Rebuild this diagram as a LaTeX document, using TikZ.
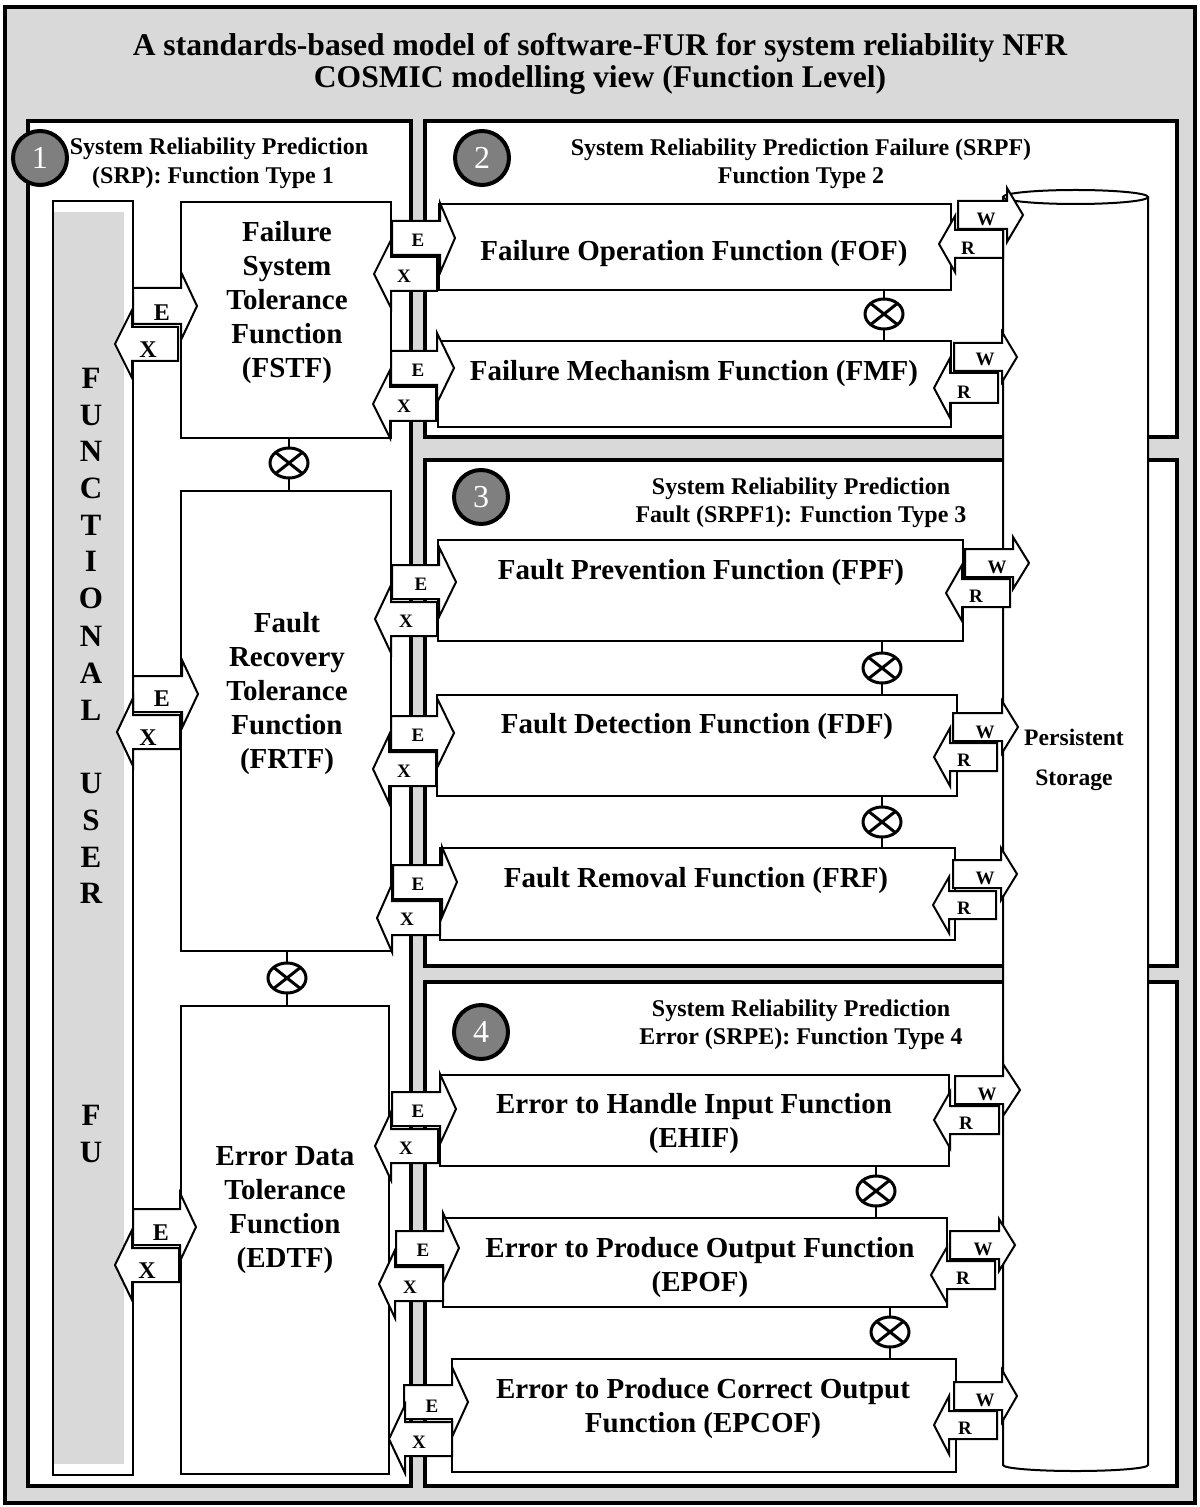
\documentclass[tikz,border=0pt]{standalone}
\usepackage{fontspec}
\setmainfont{Liberation Serif}
\usetikzlibrary{shapes.geometric,fit}
\definecolor{bggray}{HTML}{D9D9D9}
\definecolor{numgray}{HTML}{7F7F7F}
\tikzset{
  frame/.style={draw, line width=2pt, fill=white},
  fnbox/.style={draw, line width=1pt, fill=white, inner sep=0pt},
  blockarrow/.style={draw, line width=1pt, fill=white, line join=miter},
  link/.style={draw, line width=1.2pt},
  otimes/.style={ellipse, draw, line width=1.5pt, fill=white, minimum width=19pt,
    minimum height=15pt, inner sep=0pt,
    path picture={\draw[line width=1.5pt]
      (path picture bounding box.north west) -- (path picture bounding box.south east)
      (path picture bounding box.north east) -- (path picture bounding box.south west);}},
  numdisc/.style={circle, draw, line width=2pt, fill=numgray, minimum size=27pt,
    inner sep=0pt, text=white, font=\fontsize{16}{16}\selectfont},
  titletext/.style={font=\bfseries\fontsize{15.8}{16}\selectfont, align=center, yshift=-1pt},
  boxtext/.style={font=\bfseries\fontsize{14.5}{17}\selectfont, align=center, yshift=-1.5pt},
  headtext/.style={font=\bfseries\fontsize{12}{13.8}\selectfont, align=center, yshift=-1.5pt},
  fulabel/.style={font=\bfseries\fontsize{12}{12}\selectfont, yshift=-1pt},
  iolabel/.style={font=\bfseries\fontsize{9.5}{9.5}\selectfont, yshift=-0.5pt},
  fuletter/.style={font=\bfseries\fontsize{15.5}{15.5}\selectfont},
  storetext/.style={font=\bfseries\fontsize{11.8}{12}\selectfont},
}
% block arrow: {back end x}{head base x}{tip x}{centre y}{half body}{half head}
\newcommand\blockarrow[6]{%
  \draw[blockarrow] (#1,#4-#5) -- (#2,#4-#5) -- (#2,#4-#6) -- (#3,#4)
    -- (#2,#4+#6) -- (#2,#4+#5) -- (#1,#4+#5) -- cycle;}
\begin{document}
\begin{tikzpicture}[x=0.5pt, y=-0.5pt]
\useasboundingbox (0,0) rectangle (1199,1507);
\fill[white] (0,0) rectangle (1199,1507);
\draw[line width=1.8pt, fill=bggray] (5,7) rectangle (1195,1503);

% title
\node[titletext] (title) at (600,62) {A standards-based model of software-FUR for system reliability NFR\\COSMIC modelling view (Function Level)};

% section frames
\draw[frame] (28,121) rectangle (411,1486);
\draw[frame] (425,121) rectangle (1177,437);
\draw[frame] (425,460) rectangle (1177,966);
\draw[frame] (425,982) rectangle (1177,1486);

% persistent storage cylinder
\draw[line width=1pt, fill=white] (1003,197) -- (1003,1465)
  arc[start angle=180, end angle=360, x radius=36.25pt, y radius=3pt] -- (1148,197);
\draw[line width=1pt, fill=white] (1075.5,197) ellipse[x radius=36.25pt, y radius=3.5pt];
\node[storetext] (store1) at (1074,737) {Persistent};
\node[storetext] (store2) at (1074,780) {Storage};

% functional user column
\fill[white] (53,201) rectangle (133,1475);
\fill[bggray] (53,212) rectangle (124,1464);
\node[draw, line width=1pt, inner sep=0pt, fit={(53,201) (133,1475)}] (fu) {};
\foreach \ch/\yy [count=\i] in {F/378,U/415,N/451,C/488,T/525,I/561,O/598,N/636,A/673,L/710,U/783,S/820,E/857,R/893,F/1115,U/1152}
  \node[fuletter] (fu-\i) at (91,\yy) {\ch};

% section headings and numbers
\node[headtext] (h1a) at (219,146) {System Reliability Prediction};
\node[headtext] (h1b) at (213,175) {(SRP): Function Type 1};
\node[headtext] (h2) at (801,161) {System Reliability Prediction Failure (SRPF)\\Function Type 2};
\node[headtext] (h3) at (801,500) {System Reliability Prediction\\Fault (SRPF1): Function Type 3};
\node[headtext] (h4) at (801,1022) {System Reliability Prediction\\Error (SRPE): Function Type 4};
\node[numdisc] (n1) at (40,158) {1};
\node[numdisc] (n2) at (482,158) {2};
\node[numdisc] (n3) at (481,497) {3};
\node[numdisc] (n4) at (481,1032) {4};

% function boxes
\node[fnbox, fit={(181,202) (391,438)}] (fstf) {};
\node[fnbox, fit={(181,491) (391,951)}] (frtf) {};
\node[fnbox, fit={(181,1006) (389,1474)}] (edtf) {};
\node[fnbox, fit={(439,204) (951,290)}] (fof) {};
\node[fnbox, fit={(438,341) (951,427)}] (fmf) {};
\node[fnbox, fit={(438,540) (963,641)}] (fpf) {};
\node[fnbox, fit={(437,695) (957,796)}] (fdf) {};
\node[fnbox, fit={(440,848) (955,940)}] (frf) {};
\node[fnbox, fit={(440,1075) (949,1166)}] (ehif) {};
\node[fnbox, fit={(443,1218) (947,1307)}] (epof) {};
\node[fnbox, fit={(452,1359) (956,1472)}] (epcof) {};

% sequence links with exclusive-or junctions
\foreach \o/\a/\b/\xx/\yy in {o1/fstf/frtf/289/463, o2/frtf/edtf/287/978, o3/fof/fmf/884/314,
    o4/fpf/fdf/882/668, o5/fdf/frf/882/822, o6/ehif/epof/876/1191, o7/epof/epcof/890/1332}{
  \coordinate (\o c) at (\xx,\yy);
  \draw[link] (\a.south -| \o c) -- (\b.north -| \o c);
  \node[otimes] (\o) at (\o c) {};
}

% entries and exits between the functional user and level-1 functions
\blockarrow{133}{181}{197}{306}{18}{34}
\blockarrow{178}{132}{115}{344}{17}{34}
\blockarrow{133}{182}{198}{694}{18}{34}
\blockarrow{180}{133}{117}{732}{17}{34}
\blockarrow{133}{180}{196}{1227}{18}{34}
\blockarrow{179}{132}{115}{1265}{17}{35}
\node[fulabel] (fe1) at (162,311) {E};
\node[fulabel] (fx1) at (148,348) {X};
\node[fulabel] (fe2) at (162,697) {E};
\node[fulabel] (fx2) at (148,736) {X};
\node[fulabel] (fe3) at (161,1231) {E};
\node[fulabel] (fx3) at (147,1269) {X};

% entries and exits of the sub-functions
\blockarrow{392}{440}{455}{238}{17}{35}
\blockarrow{437}{391}{374}{274}{17}{34}
\blockarrow{391}{437}{454}{368}{17}{35}
\blockarrow{436}{390}{373}{404}{17}{34}
\blockarrow{392}{439}{456}{582}{17}{35}
\blockarrow{437}{391}{375}{619}{17}{34}
\blockarrow{391}{437}{454}{733}{17}{35}
\blockarrow{436}{389}{373}{769}{17}{34}
\blockarrow{393}{442}{457}{882}{17}{35}
\blockarrow{440}{392}{377}{918}{17}{34}
\blockarrow{392}{440}{456}{1109}{17}{35}
\blockarrow{438}{391}{375}{1146}{17}{34}
\blockarrow{396}{443}{459}{1248}{17}{35}
\blockarrow{443}{395}{379}{1284}{17}{34}
\blockarrow{404}{452}{468}{1402}{17}{35}
\blockarrow{452}{405}{389}{1439}{17}{34}
\foreach \nm/\xe/\ye/\xx/\yx in {fof/418/239/404/275, fmf/418/369/404/405, fpf/421/583/406/620,
    fdf/418/734/404/770, frf/418/883/407/918, ehif/418/1110/406/1147,
    epof/423/1249/410/1286, epcof/432/1405/419/1441}{
  \node[iolabel] (\nm-e) at (\xe,\ye) {E};
  \node[iolabel] (\nm-x) at (\xx,\yx) {X};
}

% writes and reads to persistent storage
\blockarrow{958}{1007}{1023}{215}{14}{27}
\blockarrow{1003}{955}{939}{244}{14}{28}
\blockarrow{954}{1002}{1017}{357}{14}{25}
\blockarrow{998}{950}{934}{388}{15}{30}
\blockarrow{965}{1013}{1029}{563}{14}{26}
\blockarrow{1010}{962}{946}{593}{14}{28}
\blockarrow{953}{1002}{1018}{727}{14}{26}
\blockarrow{997}{950}{934}{757}{14}{29}
\blockarrow{953}{1001}{1017}{874}{14}{26}
\blockarrow{996}{949}{933}{905}{14}{28}
\blockarrow{955}{1003}{1020}{1090}{14}{26}
\blockarrow{999}{950}{934}{1120}{14}{28}
\blockarrow{950}{999}{1015}{1245}{14}{26}
\blockarrow{995}{947}{931}{1275}{14}{28}
\blockarrow{954}{1002}{1017}{1396}{14}{26}
\blockarrow{997}{949}{934}{1425}{14}{29}
\foreach \nm/\xw/\yw/\xr/\yr in {fof/986/218/968/247, fmf/985/358/964/391, fpf/997/566/976/595,
    fdf/985/731/964/759, frf/985/877/964/907, ehif/987/1093/966/1122,
    epof/983/1248/963/1277, epcof/985/1399/965/1427}{
  \node[iolabel] (\nm-w) at (\xw,\yw) {W};
  \node[iolabel] (\nm-r) at (\xr,\yr) {R};
}

% function names
\node[boxtext] (fstf-t) at (287,300) {Failure\\System\\Tolerance\\Function\\(FSTF)};
\node[boxtext] (frtf-t) at (287,691) {Fault\\Recovery\\Tolerance\\Function\\(FRTF)};
\node[boxtext] (edtf-t) at (285,1207) {Error Data\\Tolerance\\Function\\(EDTF)};
\node[boxtext] (fof-t) at (694,251) {Failure Operation Function (FOF)};
\node[boxtext] (fmf-t) at (694,371) {Failure Mechanism Function (FMF)};
\node[boxtext] (fpf-t) at (701,570) {Fault Prevention Function (FPF)};
\node[boxtext] (fdf-t) at (697,724) {Fault Detection Function (FDF)};
\node[boxtext] (frf-t) at (696,878) {Fault Removal Function (FRF)};
\node[boxtext] (ehif-t) at (694,1121) {Error to Handle Input Function\\(EHIF)};
\node[boxtext] (epof-t) at (700,1265) {Error to Produce Output Function\\(EPOF)};
\node[boxtext] (epcof-t) at (703,1406) {Error to Produce Correct Output\\Function (EPCOF)};
\end{tikzpicture}
\end{document}
